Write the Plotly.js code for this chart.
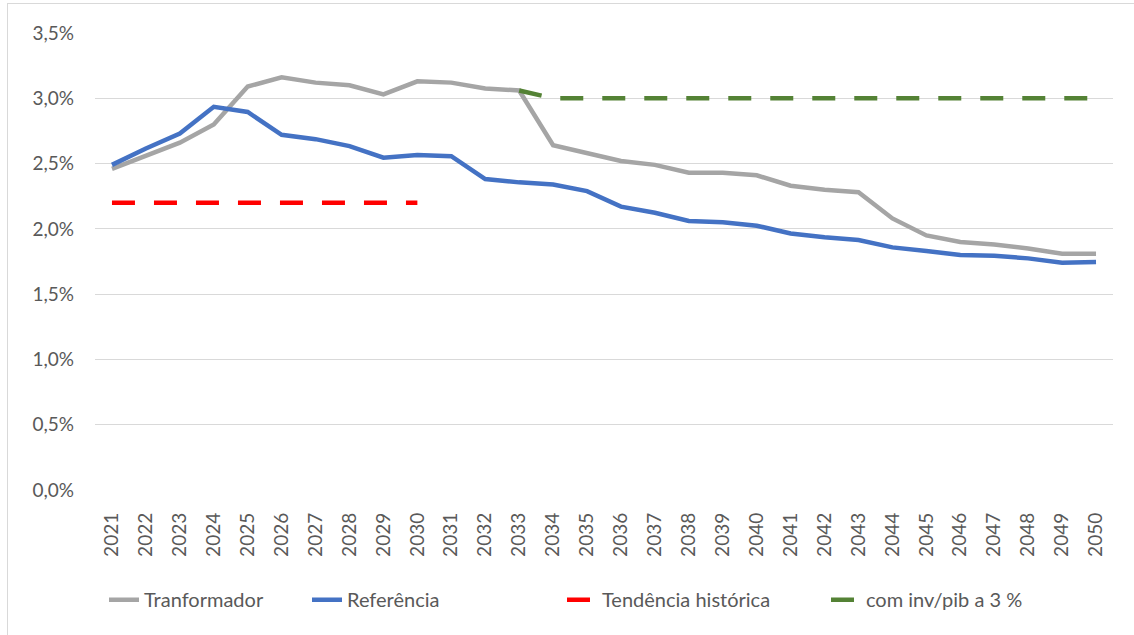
<!DOCTYPE html>
<html>
<head>
<meta charset="utf-8">
<script src="https://cdn.plot.ly/plotly-3.0.1.min.js"></script>
<style>
  html, body { margin: 0; padding: 0; background: #fff; overflow: hidden; }
  #chart { width: 1134px; height: 635px; position: absolute; left: 0; top: 0; }
  #frame { position: absolute; left: 7px; top: 3px; width: 1200px; height: 700px; border: 1px solid #d9d9d9; pointer-events: none; }
</style>
</head>
<body>
<div id="chart"></div>
<div id="frame"></div>
<script>
const years = ['2021','2022','2023','2024','2025','2026','2027','2028','2029','2030',
  '2031','2032','2033','2034','2035','2036','2037','2038','2039','2040',
  '2041','2042','2043','2044','2045','2046','2047','2048','2049','2050'];

const transformador = [2.46, 2.56, 2.66, 2.80, 3.09, 3.16, 3.12, 3.10, 3.03, 3.13,
  3.12, 3.075, 3.06, 2.64, 2.58, 2.52, 2.49, 2.43, 2.43, 2.41,
  2.33, 2.30, 2.28, 2.08, 1.95, 1.90, 1.88, 1.85, 1.81, 1.81];

const referencia = [2.49, 2.615, 2.73, 2.935, 2.895, 2.72, 2.687, 2.634, 2.545, 2.565,
  2.557, 2.381, 2.356, 2.34, 2.289, 2.17, 2.123, 2.06, 2.05, 2.024,
  1.965, 1.935, 1.914, 1.858, 1.83, 1.80, 1.794, 1.774, 1.74, 1.746];

const tendenciaYears = years.slice(0, 10);
const tendencia = [2.2, 2.2, 2.2, 2.2, 2.2, 2.2, 2.2, 2.2, 2.2, 2.2];

const invYears = years.slice(12);
const invPib = [3.06, 3.0, 3.0, 3.0, 3.0, 3.0, 3.0, 3.0, 3.0, 3.0,
  3.0, 3.0, 3.0, 3.0, 3.0, 3.0, 3.0, 3.0];

const yTicks = [0, 0.5, 1.0, 1.5, 2.0, 2.5, 3.0, 3.5];
const yTickText = ['0,0%', '0,5%', '1,0%', '1,5%', '2,0%', '2,5%', '3,0%', '3,5%'];

const txt = '#595959';
const fontFam = 'Lato, "Open Sans", sans-serif';

const traces = [
  { x: years, y: transformador, name: 'Tranformador', type: 'scatter', mode: 'lines',
    legend: 'legend', line: { color: '#A5A5A5', width: 4.5 } },
  { x: years, y: referencia, name: 'Referência', type: 'scatter', mode: 'lines',
    legend: 'legend2', line: { color: '#4472C4', width: 4.5 } },
  { x: tendenciaYears, y: tendencia, name: 'Tendência histórica', type: 'scatter', mode: 'lines',
    legend: 'legend3', line: { color: '#FF0000', width: 4.5, dash: '23px,19px' } },
  { x: invYears, y: invPib, name: 'com inv/pib a 3 %', type: 'scatter', mode: 'lines',
    legend: 'legend4', line: { color: '#548235', width: 4.5, dash: '23px,19px' } }
];

// legend placement (pixel text starts converted to paper coords)
const plotL = 95, plotW = 1018;
function legendAt(px) {
  return { orientation: 'h', x: (px - plotL) / plotW, xanchor: 'left', y: -0.24, yanchor: 'middle',
    font: { size: 20, color: txt }, bgcolor: 'rgba(0,0,0,0)' };
}

const layout = {
  width: 1134, height: 635,
  margin: { l: 95, r: 21, t: 33, b: 145 },
  paper_bgcolor: 'rgba(0,0,0,0)', plot_bgcolor: '#fff',
  font: { family: fontFam, color: txt, size: 19 },
  showlegend: true,
  legend: legendAt(145 - 41),
  legend2: legendAt(348 - 41),
  legend3: legendAt(603 - 41),
  legend4: legendAt(867 - 41),
  xaxis: { type: 'category', categoryorder: 'array', categoryarray: years,
    range: [-0.5, 29.5], tickangle: -90, showgrid: false, zeroline: false,
    showline: false, ticks: '', ticklabelstandoff: 18,
    tickfont: { size: 19, color: txt }, fixedrange: true },
  yaxis: { range: [0, 3.5], tickmode: 'array', tickvals: yTicks, ticktext: yTickText,
    showgrid: true, gridcolor: '#D9D9D9', gridwidth: 1, zeroline: false,
    showline: false, ticks: '', ticklabelstandoff: 20,
    tickfont: { size: 19, color: txt }, fixedrange: true }
};

Plotly.newPlot('chart', traces, layout, { staticPlot: true, displayModeBar: false });
</script>
</body>
</html>
